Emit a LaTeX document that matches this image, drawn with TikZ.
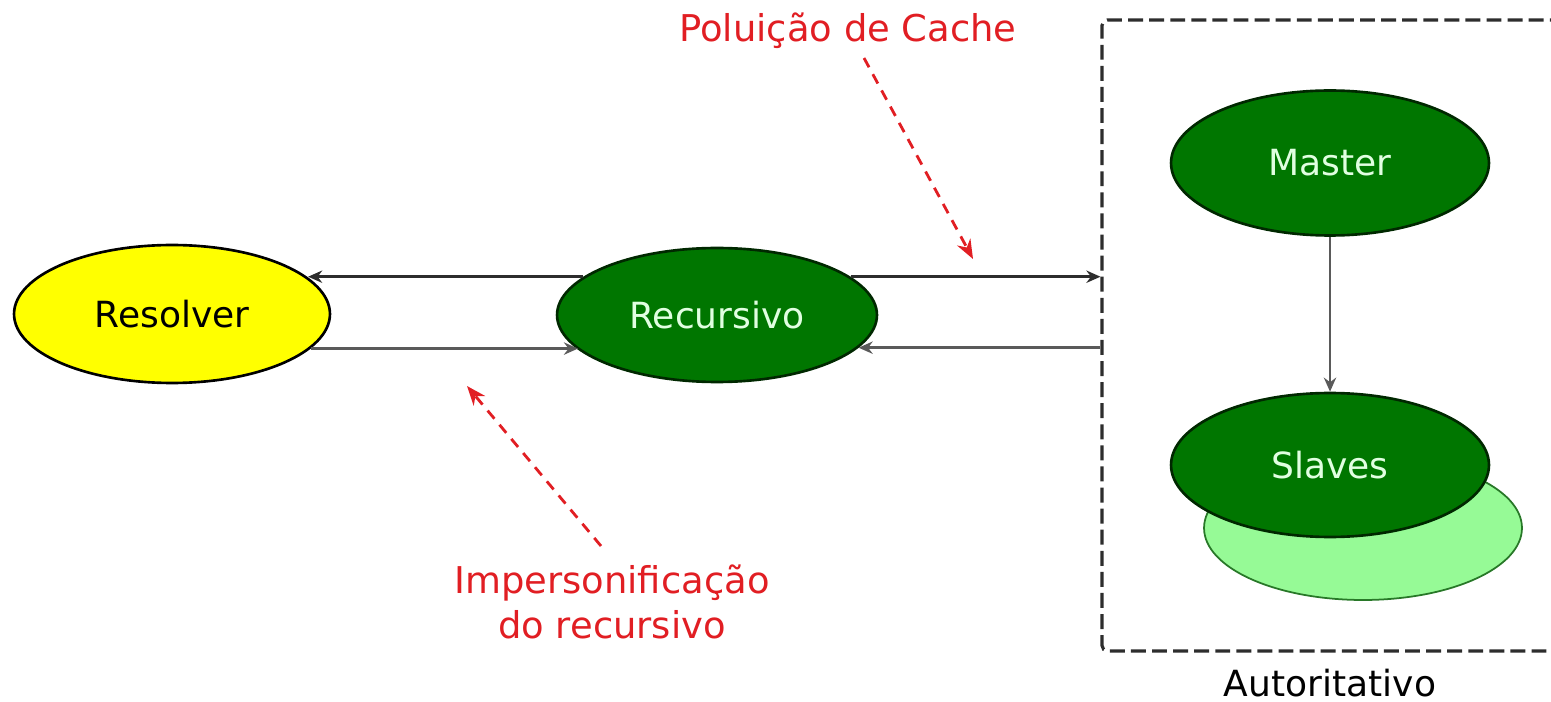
\documentclass[tikz,border=0pt]{standalone}
\usepackage{fontspec}
\setmainfont{DejaVu Sans}
\usetikzlibrary{arrows.meta,shapes.geometric}
\definecolor{dkgreen}{RGB}{0,118,0}
\definecolor{dkedge}{RGB}{0,40,0}
\definecolor{ltgreen}{RGB}{150,250,150}
\definecolor{ltedge}{RGB}{40,120,40}
\definecolor{mint}{RGB}{225,255,225}
\definecolor{annot}{RGB}{225,30,35}
\definecolor{ylw}{RGB}{255,255,0}
\definecolor{conn}{RGB}{45,45,45}
\definecolor{conngray}{RGB}{90,90,90}
\tikzset{
  ell/.style={ellipse, draw, line width=1.5pt, inner sep=0pt, font=\fontsize{20.5}{24}\selectfont},
  greenell/.style={ell, fill=dkgreen, draw=dkedge, text=mint},
  flow/.style={-{Stealth[length=8pt,width=7pt]}, line width=1.5pt, draw=conn},
  flowgray/.style={flow, draw=conngray},
  annotarrow/.style={-{Stealth[length=11pt,width=8.5pt]}, line width=1.6pt, draw=annot, dash pattern=on 6pt off 4.5pt},
  annottext/.style={text=annot, font=\fontsize{21}{25.5}\selectfont, align=center},
  boxstyle/.style={draw=conn, line width=1.8pt, dash pattern=on 8.5pt off 3.5pt, rounded corners=3pt, inner sep=0pt}
}
\begin{document}
\begin{tikzpicture}[x=0.02cm,y=-0.02cm]
\path[use as bounding box] (0,0) rectangle (1551,702);
\clip (0,0) rectangle (1551,702);

% authoritative box
\node[boxstyle, minimum width=9.36cm, minimum height=12.62cm] (auth) at (1336,335.5) {};
\node[font=\fontsize{20.5}{24}\selectfont, text=black] (authlbl) at (1330,683) {Autoritativo};

% nodes
\node[ell, fill=ylw, draw=black, minimum width=6.32cm, minimum height=2.76cm] (res) at (172,314) {Resolver};
\node[greenell, minimum width=6.4cm, minimum height=2.68cm] (rec) at (717,315) {Recursivo};
\node[greenell, minimum width=6.36cm, minimum height=2.9cm] (mas) at (1330,163) {Master};
\node[ell, fill=ltgreen, draw=ltedge, line width=1pt, minimum width=6.36cm, minimum height=2.88cm] (slb) at (1363,528) {};
\node[greenell, minimum width=6.36cm, minimum height=2.88cm] (sla) at (1330,465) {Slaves};

% connectors
\draw[flow] (rec.164) -- (rec.164 -| res.15);
\draw[flowgray] (res.-14) -- (res.-14 -| rec.-166);
\draw[flow] (rec.16) -- (rec.16 -| auth.west);
\draw[flowgray] (auth.west |- rec.-13) -- (rec.-13);
\draw[flowgray] (mas) -- (sla);

% annotations
\node[annottext] (pol) at (848,31) {Poluição de Cache};
\node[annottext] (imp) at (612,602) {Impersonificação\\do recursivo};
\coordinate (polstart) at (864,58);
\coordinate (poltip) at (973,259);
\coordinate (impstart) at (601,546);
\coordinate (imptip) at (467,386);
\draw[annotarrow] (polstart) -- (poltip);
\draw[annotarrow] (impstart) -- (imptip);
\end{tikzpicture}
\end{document}
